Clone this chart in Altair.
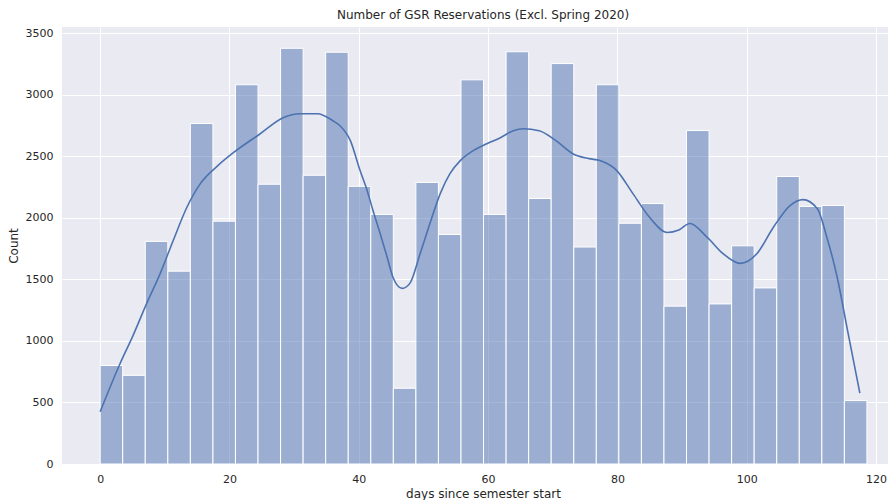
import altair as alt
import pandas as pd

# Histogram counts (34 bins)
counts = [800, 720, 1808, 1566, 2765, 1972, 3080, 2272, 3376, 2345, 3344, 2255,
          2027, 615, 2287, 1864, 3120, 2027, 3348, 2156, 3252, 1762, 3080, 1955,
          2115, 1282, 2708, 1300, 1772, 1430, 2335, 2092, 2100, 515]
bin_width = 3.488

# KDE curve
kde_x = [0, 3.1, 5.1, 7.2, 9.3, 11.3, 13.4, 15.5, 18.2, 20.6, 24.7, 28.3, 30.9,
         33.6, 36.0, 37.1, 38.7, 40.2, 41.3, 42.2, 43.3, 44.4, 45.3, 46.7, 47.9,
         49.5, 51.0, 52.6, 54.1, 55.7, 57.7, 59.8, 61.9, 63.9, 65.4, 67.9, 70.5,
         73.1, 75.6, 77.3, 79.9, 82.4, 85.0, 87.7, 89.5, 91.2, 93.9, 96.3, 99.0,
         101.6, 104.1, 106.7, 108.7, 110.9, 112.4, 114.0, 115.5, 117.5]
kde_y = [424, 818, 1045, 1305, 1548, 1815, 2083, 2277, 2423, 2528, 2680, 2812, 2845,
         2845, 2788, 2747, 2626, 2383, 2220, 2058, 1872, 1677, 1515, 1426, 1467,
         1710, 1953, 2196, 2358, 2464, 2545, 2601, 2650, 2707, 2723, 2707, 2626,
         2520, 2480, 2464, 2383, 2196, 2002, 1880, 1900, 1953, 1840, 1710, 1629,
         1710, 1921, 2099, 2147, 2075, 1840, 1515, 1110, 575]

x_ticks = [0, 20, 40, 60, 80, 100, 120]
y_ticks = [0, 500, 1000, 1500, 2000, 2500, 3000, 3500]

hist_df = pd.DataFrame({
    "start": [i * bin_width for i in range(len(counts))],
    "end": [(i + 1) * bin_width for i in range(len(counts))],
    "count": counts,
})
kde_df = pd.DataFrame({"x": kde_x, "y": kde_y})

FONT = "DejaVu Sans"
TXT = "#262626"

xscale = alt.Scale(domain=[-5.9, 121.85], nice=False, zero=False)
yscale = alt.Scale(domain=[0, 3549], nice=False)

xaxis = alt.Axis(values=x_ticks, title="days since semester start", grid=True,
                 gridColor="white", gridWidth=1, ticks=False, domain=False,
                 labelPadding=9, labelFontSize=11, labelColor=TXT, labelFont=FONT,
                 titleFont=FONT, titleFontSize=12, titleColor=TXT,
                 titleFontWeight="normal", titlePadding=4, titleX=421)
yaxis = alt.Axis(values=y_ticks, format="d", title="Count", grid=True,
                 gridColor="white", gridWidth=1, ticks=False, domain=False,
                 labelPadding=9, labelFontSize=11, labelColor=TXT, labelFont=FONT,
                 titleFont=FONT, titleFontSize=12, titleColor=TXT,
                 titleFontWeight="normal", titlePadding=5)

bars = alt.Chart(hist_df).mark_rect(
    fill="#4C72B0", fillOpacity=0.5, stroke="white", strokeWidth=1
).encode(
    x=alt.X("start:Q", scale=xscale, axis=xaxis),
    x2="end:Q",
    y=alt.Y("count:Q", scale=yscale, axis=yaxis),
    y2=alt.datum(0),
)

line = alt.Chart(kde_df).mark_line(
    color="#4C72B0", strokeWidth=1.6, interpolate="monotone"
).encode(
    x=alt.X("x:Q", scale=xscale),
    y=alt.Y("y:Q", scale=yscale),
)

chart = alt.layer(bars, line).properties(
    width=826,
    height=437,
    background="white",
    autosize=alt.AutoSizeParams(type="none"),
    padding={"left": 54, "top": 19, "right": 0, "bottom": 36},
    title=alt.TitleParams("Number of GSR Reservations (Excl. Spring 2020)",
                          font=FONT, fontSize=12, fontWeight="normal",
                          color=TXT, offset=5, dx=8),
).configure_view(
    fill="#EAEAF2", strokeWidth=0
)

chart.save("out.html", embed_options={"renderer": "svg", "actions": False})
